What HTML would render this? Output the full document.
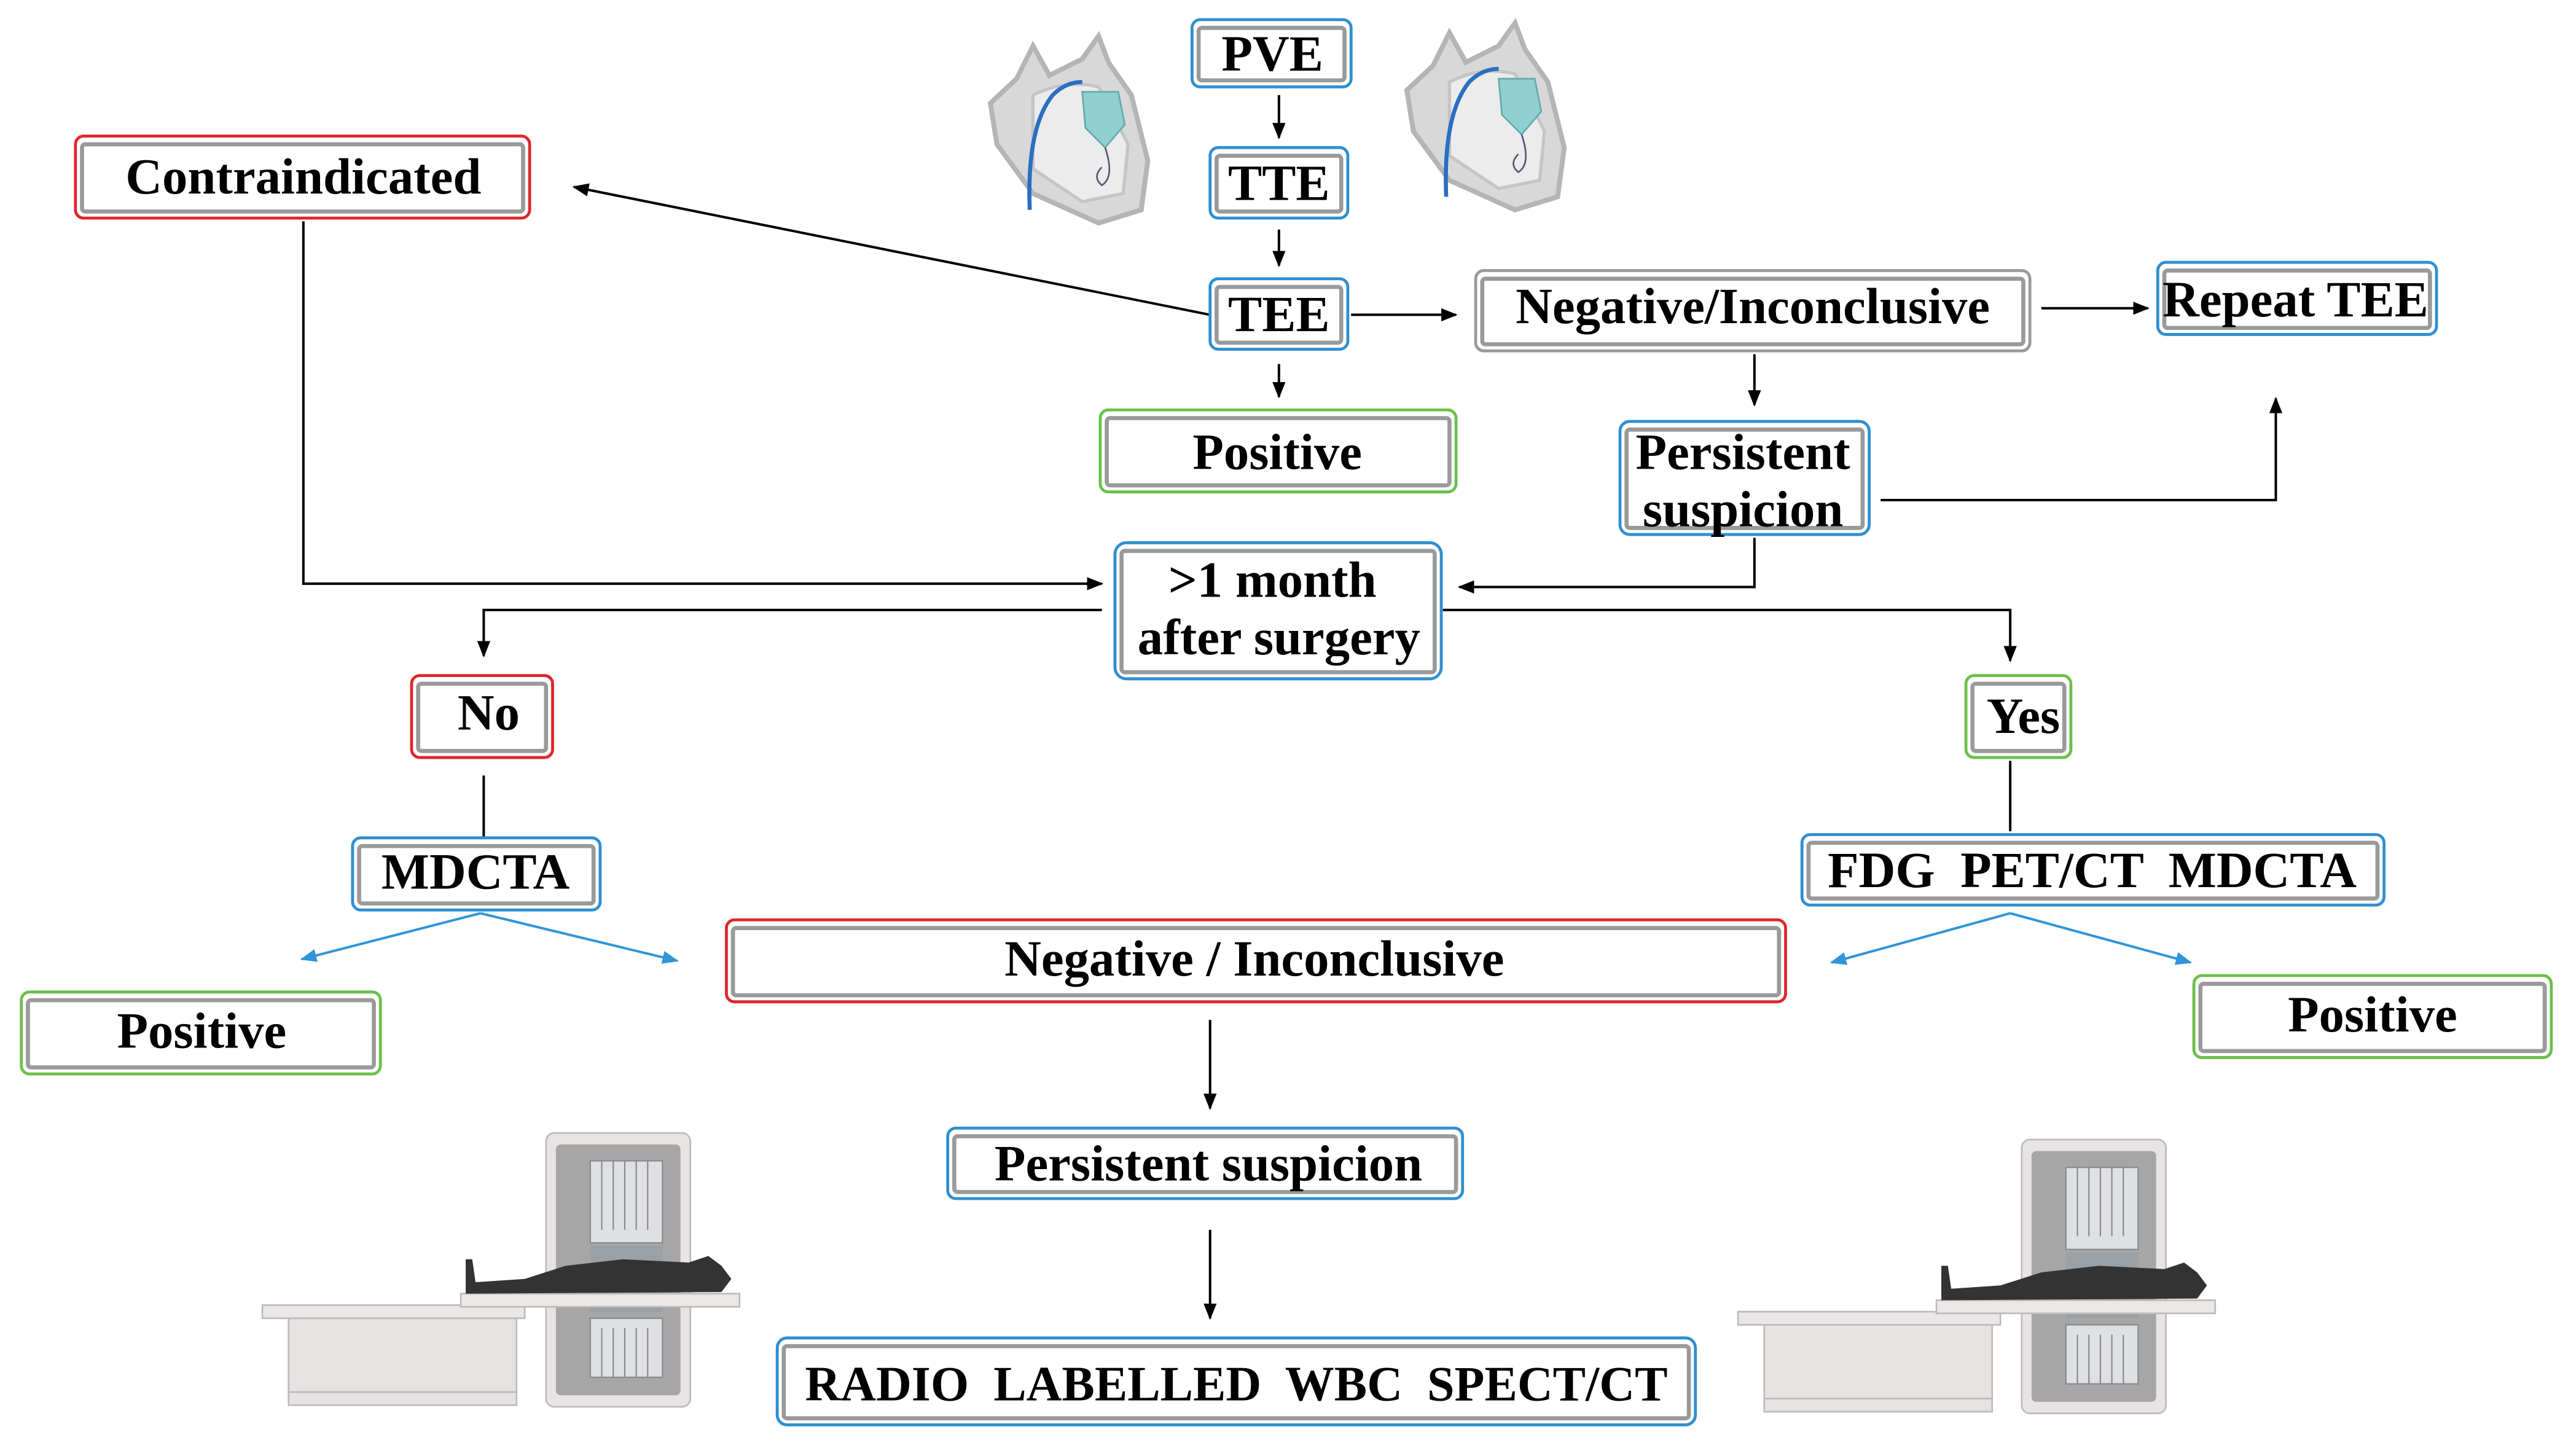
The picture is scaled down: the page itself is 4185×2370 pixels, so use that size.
<!DOCTYPE html>
<html><head><meta charset="utf-8"><style>
html,body{margin:0;padding:0;background:#fff}
svg{display:block}
text{font-family:"Liberation Serif",serif;font-weight:bold;fill:#000;text-anchor:middle}
</style></head><body>
<svg width="4185" height="2370" viewBox="0 0 1568 888" xmlns="http://www.w3.org/2000/svg">
<defs>
<marker id="a" markerWidth="10" markerHeight="10" refX="9" refY="5" orient="auto" markerUnits="userSpaceOnUse"><path d="M0,1 L10,5 L0,9 z" fill="#000"/></marker>
<marker id="b" markerWidth="10" markerHeight="10" refX="9" refY="5" orient="auto" markerUnits="userSpaceOnUse"><path d="M0,1 L10,5 L0,9 z" fill="#2f95d8"/></marker>
<g id="heart">
<path d="M20,30 L30,10 L40,28 L60,18 L70,4 L76,20 L90,40 L100,80 L96,110 L70,118 L30,100 L8,70 L4,45 z" fill="#d8d8d8" stroke="#b5b5b5" stroke-width="3"/>
<path d="M30,40 Q50,30 70,35 L88,70 L85,100 L60,105 L30,85 z" fill="#ececec" stroke="#c5c5c5" stroke-width="2"/>
<path d="M28,110 Q26,60 42,40 Q50,32 60,32" fill="none" stroke="#2a6fc0" stroke-width="2.5"/>
<path d="M60,38 L82,38 L86,58 L74,72 L62,60 z" fill="#8fcfd0" stroke="#6aa" stroke-width="1"/>
<path d="M74,72 Q80,90 72,95 Q66,90 72,84" fill="none" stroke="#557" stroke-width="1"/>
</g>
</defs>
<rect width="1568" height="888" fill="#fff"/>

<use href="#heart" x="600" y="18"/>
<use href="#heart" x="854" y="10"/>

<g id="scan">
<rect x="333" y="691" width="88" height="167" rx="5" fill="#e8e4e4" stroke="#bbb"/>
<rect x="339" y="698" width="76" height="153" rx="3" fill="#a6a6a6"/>
<rect x="360" y="708" width="44" height="50" fill="#dfe0e3" stroke="#888" stroke-width="0.8"/>
<path d="M367,708v42M374,708v42M381,708v42M388,708v42M395,708v42" stroke="#888" stroke-width="0.8"/>
<rect x="360" y="760" width="44" height="40" fill="#9aa0a4"/>
<rect x="360" y="804" width="44" height="36" fill="#dfe0e3" stroke="#888" stroke-width="0.8"/>
<path d="M367,810v30M374,810v30M381,810v30M388,810v30M395,810v30" stroke="#888" stroke-width="0.8"/>
<rect x="176" y="803" width="139" height="46" fill="#e7e2e2" stroke="#bbb"/>
<rect x="176" y="849" width="139" height="8" fill="#e7e2e2" stroke="#bbb"/>
<rect x="160" y="796" width="160" height="8" fill="#ebe7e7" stroke="#bbb"/>
<rect x="281" y="789" width="170" height="8" fill="#ebe7e7" stroke="#bbb"/>
<path d="M284,789 L284,768 L288,768 L290,782 L320,780 L345,772 L380,768 L420,770 L432,766 L440,772 L446,780 L440,788 z" fill="#333"/>
</g>
<use href="#scan" x="900" y="4"/>

<g stroke="#000" stroke-width="1.5" fill="none">
<path d="M780,58V84" marker-end="url(#a)"/>
<path d="M780,140V162" marker-end="url(#a)"/>
<path d="M780,222V242" marker-end="url(#a)"/>
<path d="M738,192L350,114" marker-end="url(#a)"/>
<path d="M824,192H888" marker-end="url(#a)"/>
<path d="M1245,188H1310" marker-end="url(#a)"/>
<path d="M1070,216V247" marker-end="url(#a)"/>
<path d="M1147,305H1388V243" marker-end="url(#a)"/>
<path d="M1070,328V358H890" marker-end="url(#a)"/>
<path d="M185,135V356H672" marker-end="url(#a)"/>
<path d="M672,372H295V400" marker-end="url(#a)"/>
<path d="M880,372H1226V403" marker-end="url(#a)"/>
<path d="M295,473V511"/>
<path d="M1226,464V507"/>
<path d="M738,622V676" marker-end="url(#a)"/>
<path d="M738,750V804" marker-end="url(#a)"/>
</g>
<g stroke="#2f95d8" stroke-width="1.5" fill="none">
<path d="M293,557L184,585" marker-end="url(#b)"/>
<path d="M293,557L413,586" marker-end="url(#b)"/>
<path d="M1226,557L1117,587" marker-end="url(#b)"/>
<path d="M1226,557L1336,587" marker-end="url(#b)"/>
</g>

<g fill="#fff" stroke-width="1.8">
<g stroke="#2f8fd0">
<rect x="727" y="12" width="97" height="41" rx="5"/>
<rect x="738" y="90" width="84" height="43" rx="5"/>
<rect x="738" y="170" width="84" height="43" rx="5"/>
<rect x="1316" y="160" width="170" height="44" rx="5"/>
<rect x="988" y="257" width="152" height="69" rx="6"/>
<rect x="680" y="331" width="199" height="83" rx="7"/>
<rect x="215" y="511" width="151" height="44" rx="5"/>
<rect x="1099" y="509" width="355" height="43" rx="5"/>
<rect x="578" y="688" width="314" height="43" rx="5"/>
<rect x="474" y="816" width="560" height="53" rx="6"/>
</g>
<g stroke="#e0262a">
<rect x="46" y="83" width="277" height="50" rx="5"/>
<rect x="251" y="412" width="86" height="50" rx="5"/>
<rect x="443" y="561" width="646" height="50" rx="5"/>
</g>
<g stroke="#6cc04a">
<rect x="671" y="250" width="217" height="50" rx="5"/>
<rect x="1199" y="412" width="64" height="50" rx="5"/>
<rect x="13" y="605" width="219" height="50" rx="5"/>
<rect x="1338" y="595" width="218" height="50" rx="5"/>
</g>
<rect x="900" y="165" width="338" height="49" rx="5" stroke="#999"/>
</g>
<g fill="none" stroke="#9a9a9a" stroke-width="2.5">
<rect x="731" y="17" width="89" height="32" rx="2"/>
<rect x="742" y="95" width="76" height="34" rx="2"/>
<rect x="742" y="175" width="76" height="34" rx="2"/>
<rect x="1320" y="165" width="162" height="35" rx="2"/>
<rect x="992" y="262" width="144" height="60" rx="2"/>
<rect x="684" y="336" width="191" height="74" rx="2"/>
<rect x="219" y="516" width="143" height="35" rx="2"/>
<rect x="1103" y="514" width="347" height="34" rx="2"/>
<rect x="582" y="693" width="306" height="34" rx="2"/>
<rect x="478" y="821" width="552" height="44" rx="2"/>
<rect x="50" y="88" width="269" height="41" rx="2"/>
<rect x="255" y="417" width="78" height="41" rx="2"/>
<rect x="447" y="566" width="638" height="41" rx="2"/>
<rect x="675" y="255" width="209" height="41" rx="2"/>
<rect x="1203" y="417" width="56" height="41" rx="2"/>
<rect x="17" y="610" width="211" height="41" rx="2"/>
<rect x="1342" y="600" width="210" height="41" rx="2"/>
<rect x="904" y="170" width="330" height="40" rx="2"/>
</g>

<g font-size="31">
<text x="776" y="43">PVE</text>
<text x="780" y="122">TTE</text>
<text x="780" y="202">TEE</text>
<text x="185" y="118">Contraindicated</text>
<text x="1069" y="197">Negative/Inconclusive</text>
<text x="1400" y="193">Repeat TEE</text>
<text x="779" y="286">Positive</text>
<text x="1063" y="286">Persistent</text>
<text x="1063" y="321">suspicion</text>
<text x="776" y="364">&gt;1 month</text>
<text x="780" y="399">after surgery</text>
<text x="298" y="445">No</text>
<text x="1234" y="447">Yes</text>
<text x="290" y="542">MDCTA</text>
<text x="1276" y="541" xml:space="preserve">FDG  PET/CT  MDCTA</text>
<text x="765" y="595">Negative / Inconclusive</text>
<text x="123" y="639">Positive</text>
<text x="1447" y="629">Positive</text>
<text x="737" y="720">Persistent suspicion</text>
<text x="754" y="854" font-size="30" xml:space="preserve">RADIO  LABELLED  WBC  SPECT/CT</text>
</g>
</svg>
</body></html>
